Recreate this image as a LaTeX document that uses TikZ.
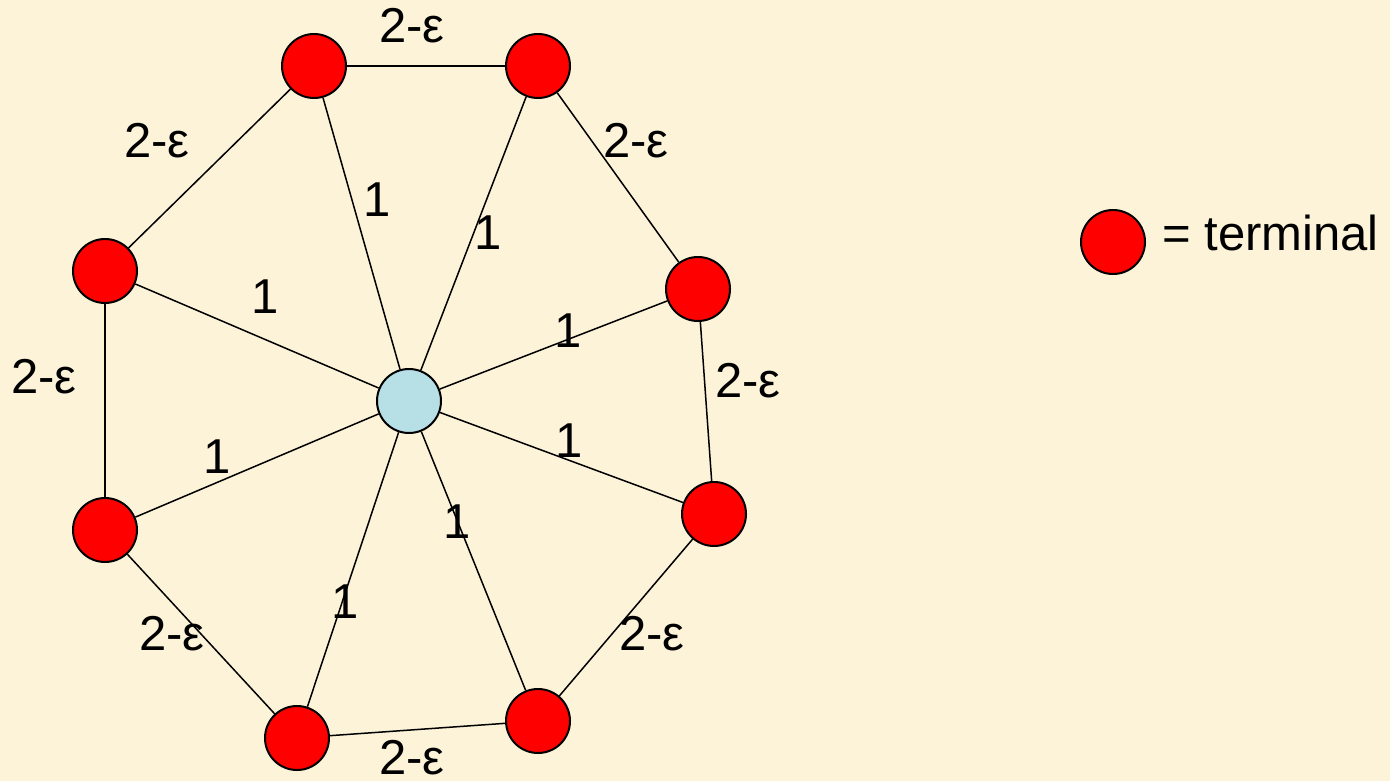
\documentclass[tikz,border=0pt]{standalone}
\usepackage{fontspec}
\setmainfont{Liberation Sans}
\usepackage{tikz}
\usetikzlibrary{positioning}
\definecolor{paper}{RGB}{252,243,216}
\definecolor{termred}{RGB}{255,0,0}
\definecolor{hubblue}{RGB}{183,223,230}
\tikzset{
  terminal/.style={circle, draw=black, line width=1pt, fill=termred, minimum size=32pt, inner sep=0pt},
  hub/.style={terminal, fill=hubblue},
  wlabel/.style={inner sep=0pt, font=\fontsize{24.5}{29}\selectfont},
  edge/.style={line width=0.75pt, draw=black},
}

\begin{document}
\begin{tikzpicture}[x=0.5pt, y=-0.5pt]
  \fill[paper] (0,0) rectangle (1390,781);
  \useasboundingbox (0,0) rectangle (1390,781);

  % hub and terminals
  \node[hub] (hub) at (409,401) {};
  \node[terminal] (t1) at (314,66) {};
  \node[terminal] (t2) at (538,66) {};
  \node[terminal] (t3) at (698,289) {};
  \node[terminal] (t4) at (714,514) {};
  \node[terminal] (t5) at (538,721) {};
  \node[terminal] (t6) at (297,738) {};
  \node[terminal] (t7) at (105,530) {};
  \node[terminal] (t8) at (105,271) {};

  % spokes and ring
  \foreach \t in {t1,t2,t3,t4,t5,t6,t7,t8}
    \draw[edge] (hub) -- (\t);
  \foreach \a/\b in {t1/t2,t2/t3,t3/t4,t4/t5,t5/t6,t6/t7,t7/t8,t8/t1}
    \draw[edge] (\a) -- (\b);

  % weights
  \foreach \x/\y in {377/200,488/233,265/297,568/331,569/441,217/457,457/522,345/602}
    \node[wlabel] at (\x,\y) {1};
  \foreach \x/\y in {412/26,157/141,636/141,44/377,748/381,172/634,652/634,412/758}
    \node[wlabel] at (\x,\y) {2-ε};

  % legend
  \node[terminal] (key) at (1113,242) {};
  \node[wlabel, anchor=base west] (keytext) at (1162,250) {= terminal};
\end{tikzpicture}
\end{document}
